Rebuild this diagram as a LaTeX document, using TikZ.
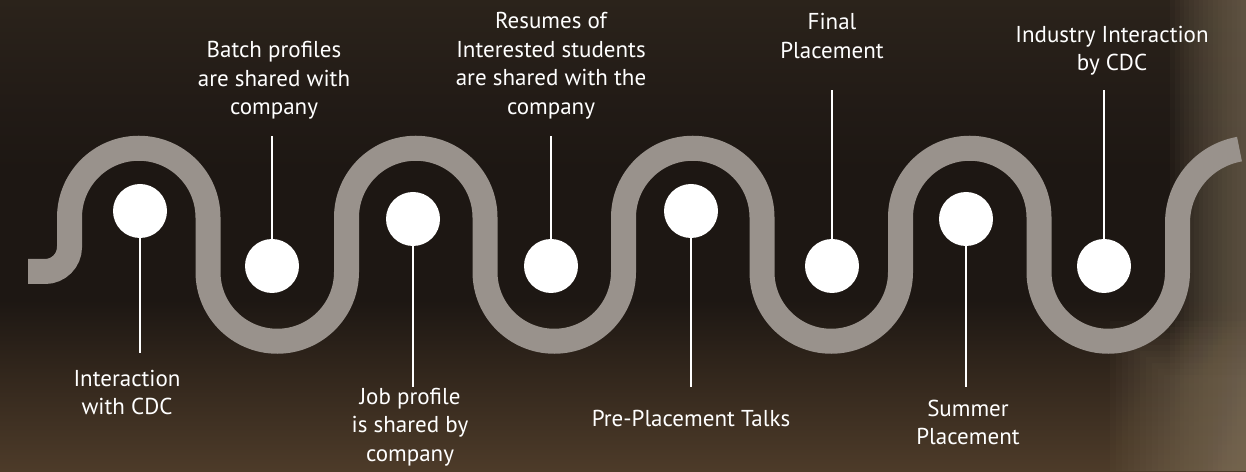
\documentclass[tikz,border=0pt]{standalone}
\usepackage{fontspec}
\setmainfont{PT Sans}
\definecolor{wavegray}{HTML}{99928C}
\definecolor{bgtop}{HTML}{2B231B}
\definecolor{bgup}{HTML}{221B16}
\definecolor{bgmid}{HTML}{1D1713}
\definecolor{bglow}{HTML}{34281D}
\definecolor{bgbot}{HTML}{4D3B29}
\definecolor{glow}{HTML}{85765F}
\pgfdeclareverticalshading{bgv}{100bp}{color(0bp)=(bgbot); color(25bp)=(bgbot); color(34.66bp)=(bglow); color(43.15bp)=(bgmid); color(56.95bp)=(bgmid); color(64.38bp)=(bgup); color(75bp)=(bgtop); color(100bp)=(bgtop)}
\begin{document}
\begin{tikzpicture}[x=1pt,y=1pt,
  wavestyle/.style={draw=wavegray,line width=25pt},
  dot/.style={circle,fill=white,draw=none,minimum size=54pt,inner sep=0pt},
  stem/.style={draw=white,line width=2pt},
  lbl/.style={text=white,align=center,inner sep=0pt,font=\fontsize{23}{28.5}\selectfont}]
\useasboundingbox (0,0) rectangle (1246,471);
\shade[shading=bgv] (0,0) rectangle (1246,471);
\foreach \k in {0,...,15} {\fill[glow,fill opacity=0.06] (1170+\k*4.75,0) rectangle (1246,471);}
\foreach \k in {0,...,9} {\fill[glow,fill opacity=0.05] (1110+\k*6,0) rectangle (1246,150-\k*6);}
% wave
\draw[wavestyle] (28,199.5) -- (45,199.5) arc[start angle=-90,end angle=0,radius=24.5pt]
  -- (69.5,253.5) arc[start angle=180,end angle=0,radius=69.25pt]
  -- (208,199) arc[start angle=180,end angle=360,radius=69.25pt]
  -- (346.5,253.5) arc[start angle=180,end angle=0,radius=69.25pt]
  -- (485,199) arc[start angle=180,end angle=360,radius=69.25pt]
  -- (623.5,253.5) arc[start angle=180,end angle=0,radius=69.25pt]
  -- (762,199) arc[start angle=180,end angle=360,radius=69.25pt]
  -- (900.5,253.5) arc[start angle=180,end angle=0,radius=69.25pt]
  -- (1039,199) arc[start angle=180,end angle=360,radius=69.25pt]
  -- (1177.5,248) arc[start angle=180,end angle=100,radius=75pt];
% dots
\node[dot] (c1) at (140,260) {};
\node[dot] (c2) at (272,205) {};
\node[dot] (c3) at (413,252) {};
\node[dot] (c4) at (551,205) {};
\node[dot] (c5) at (691,260) {};
\node[dot] (c6) at (832,205) {};
\node[dot] (c7) at (966,252) {};
\node[dot] (c8) at (1104,205) {};
% stem ends
\coordinate (e1) at (140,118);
\coordinate (e2) at (272,335);
\coordinate (e3) at (413,84);
\coordinate (e4) at (551,335);
\coordinate (e5) at (691,84);
\coordinate (e6) at (832,381);
\coordinate (e7) at (966,84);
\coordinate (e8) at (1104,381);
\foreach \i in {1,...,8} {\draw[stem] (c\i) -- (e\i);}
% labels
\node[lbl] (t1) at (127,78.5) {Interaction\\with CDC};
\node[lbl] (t2) at (274,390.5) {Batch profiles\\are shared with\\company};
\node[lbl] (t3) at (410,44) {Job profile\\is shared by\\company};
\node[lbl] (t4) at (551,405.5) {Resumes of\\Interested students\\are shared with the\\company};
\node[lbl] (t5) at (691,53) {Pre-Placement Talks};
\node[lbl] (t6) at (832,435) {Final\\Placement};
\node[lbl] (t7) at (968,48.5) {Summer\\Placement};
\node[lbl] (t8) at (1112,420.5) {Industry Interaction\\by CDC};
\end{tikzpicture}
\end{document}
